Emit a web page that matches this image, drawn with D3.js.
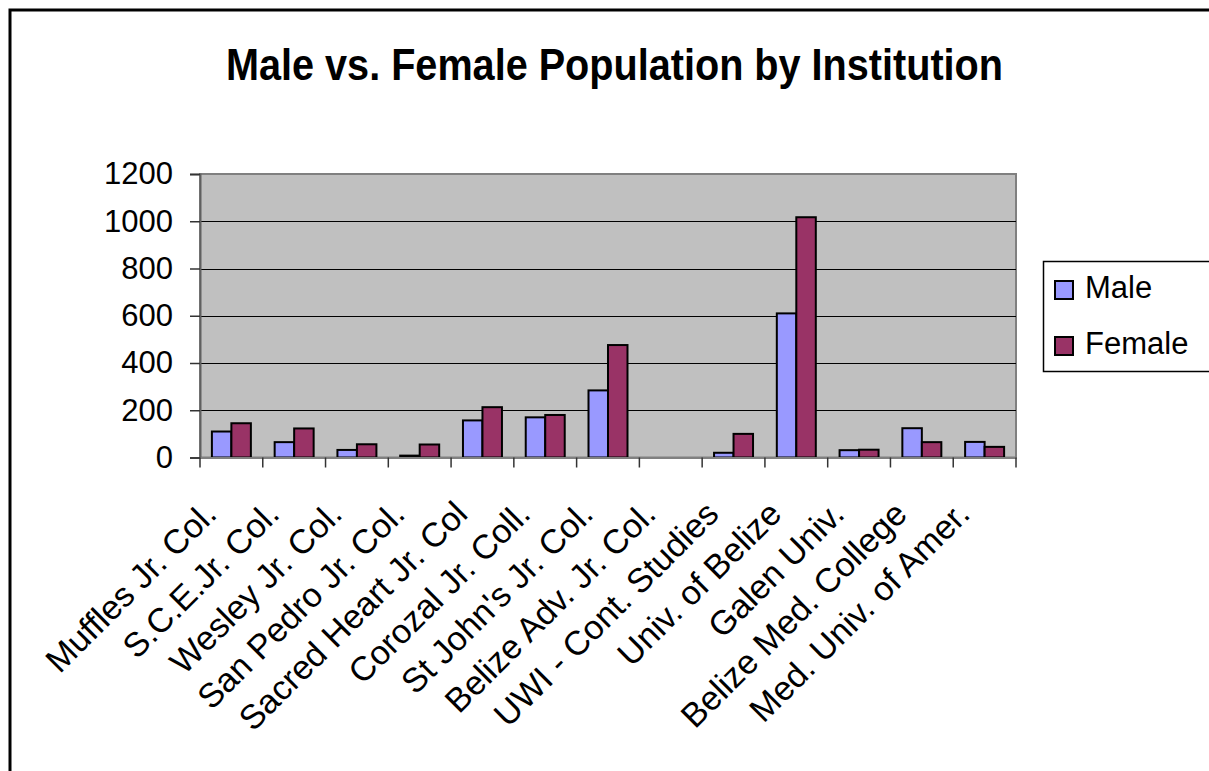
<!DOCTYPE html>
<html>
<head>
<meta charset="utf-8">
<script src="https://cdn.jsdelivr.net/npm/d3@7"></script>
<style>
  body { margin: 0; background: #fff; }
  svg { display: block; font-family: "Liberation Sans", Arial, sans-serif; }
</style>
</head>
<body>
<div id="chart"></div>
<script>
const categories = [
  "Muffles Jr. Col.", "S.C.E.Jr. Col.", "Wesley Jr. Col.", "San Pedro Jr. Col.",
  "Sacred Heart Jr. Col", "Corozal Jr. Coll.", "St John's Jr. Col.", "Belize Adv. Jr. Col.",
  "UWI - Cont. Studies", "Univ. of Belize", "Galen Univ.", "Belize Med. College",
  "Med. Univ. of Amer."
];
const male   = [110, 65, 32, 8, 157, 170, 284, 0, 20, 610, 31, 124, 66];
const female = [145, 123, 56, 55, 213, 180, 476, 0, 100, 1017, 33, 65, 45];
const seriesNames = ["Male", "Female"];
const seriesColors = ["#9999ff", "#993366"];
const yTicks = [0, 200, 400, 600, 800, 1000, 1200];

const width = 1209;
const height = 771;
const plot = { left: 200, right: 1016, top: 174, bottom: 457.5 };

const svg = d3.select('#chart')
  .append('svg')
  .attr('width', width)
  .attr('height', height);

// outer chart border (runs off the right and bottom edges)
svg.append('rect')
  .attr('x', 10).attr('y', 10)
  .attr('width', 1300).attr('height', 900)
  .attr('fill', '#fff')
  .attr('stroke', '#000')
  .attr('stroke-width', 3);

svg.append('text')
  .attr('x', 614.5).attr('y', 80)
  .attr('text-anchor', 'middle')
  .attr('font-size', 44)
  .attr('font-weight', 'bold')
  .attr('textLength', 777)
  .attr('lengthAdjust', 'spacingAndGlyphs')
  .text('Male vs. Female Population by Institution');

const x = d3.scaleBand()
  .domain(categories)
  .range([plot.left, plot.right])
  .padding(0);

const xs = d3.scaleBand()
  .domain(seriesNames)
  .range([0, x.bandwidth()])
  .paddingInner(0)
  .paddingOuter(0.61);

const y = d3.scaleLinear()
  .domain([0, 1200])
  .range([plot.bottom, plot.top]);

// plot background
svg.append('rect')
  .attr('x', plot.left).attr('y', plot.top)
  .attr('width', plot.right - plot.left)
  .attr('height', plot.bottom - plot.top)
  .attr('fill', '#c0c0c0')
  .attr('stroke', '#808080')
  .attr('stroke-width', 2);

// gridlines
svg.append('g')
  .selectAll('line')
  .data(yTicks.filter(d => d > 0 && d < 1200))
  .join('line')
    .attr('x1', plot.left).attr('x2', plot.right)
    .attr('y1', d => Math.round(y(d)) + 0.5)
    .attr('y2', d => Math.round(y(d)) + 0.5)
    .attr('stroke', '#000')
    .attr('stroke-width', 1);

// bars
const rows = categories.map((c, i) => ({ cat: c, values: [male[i], female[i]] }));

svg.append('g')
  .selectAll('g')
  .data(rows)
  .join('g')
    .attr('transform', d => `translate(${x(d.cat)},0)`)
  .selectAll('rect')
  .data(d => d.values.map((v, j) => ({ key: seriesNames[j], value: v, color: seriesColors[j] })))
  .join('rect')
    .attr('x', d => xs(d.key))
    .attr('y', d => y(d.value))
    .attr('width', xs.bandwidth())
    .attr('height', d => y(0) - y(d.value))
    .attr('fill', d => d.color)
    .attr('stroke', '#000')
    .attr('stroke-width', d => d.value > 0 ? 2 : 0);

// y axis
const yAxis = svg.append('g')
  .attr('transform', `translate(${plot.left},0)`)
  .call(d3.axisLeft(y).tickValues(yTicks).tickFormat(d3.format('d')).tickSize(10).tickPadding(17));
yAxis.select('.domain').attr('stroke', '#606060').attr('stroke-width', 2);
yAxis.selectAll('.tick line').attr('stroke', '#333').attr('stroke-width', 1.5);
yAxis.selectAll('.tick text')
  .attr('font-size', 31)
  .attr('font-family', '"Liberation Sans", Arial, sans-serif')
  .attr('fill', '#000');

// x axis
const xAxis = svg.append('g')
  .attr('transform', `translate(0,${plot.bottom})`)
  .call(d3.axisBottom(x).tickSize(0).tickFormat(''));
xAxis.select('.domain').attr('stroke', '#808080').attr('stroke-width', 2);

svg.append('g')
  .selectAll('line')
  .data(d3.range(categories.length + 1))
  .join('line')
    .attr('x1', i => plot.left + i * x.step())
    .attr('x2', i => plot.left + i * x.step())
    .attr('y1', plot.bottom)
    .attr('y2', plot.bottom + 10)
    .attr('stroke', '#333')
    .attr('stroke-width', 1.5);

svg.append('g')
  .selectAll('text')
  .data(categories)
  .join('text')
    .attr('transform', d => `translate(${x(d) + x.bandwidth() / 2 - 13},516) rotate(-45)`)
    .attr('text-anchor', 'end')
    .attr('font-size', 34)
    .text(d => d);

// legend
const legend = svg.append('g');
legend.append('rect')
  .attr('x', 1043.5).attr('y', 261.5)
  .attr('width', 200).attr('height', 110)
  .attr('fill', '#fff')
  .attr('stroke', '#000')
  .attr('stroke-width', 1.5);

const items = legend.selectAll('g.item')
  .data(seriesNames)
  .join('g')
    .attr('class', 'item')
    .attr('transform', (d, i) => `translate(1055,${281 + i * 56})`);
items.append('rect')
  .attr('width', 18).attr('height', 18)
  .attr('fill', (d, i) => seriesColors[i])
  .attr('stroke', '#000')
  .attr('stroke-width', 2);
items.append('text')
  .attr('x', 30).attr('y', 17)
  .attr('font-size', 31)
  .text(d => d);
</script>
</body>
</html>
